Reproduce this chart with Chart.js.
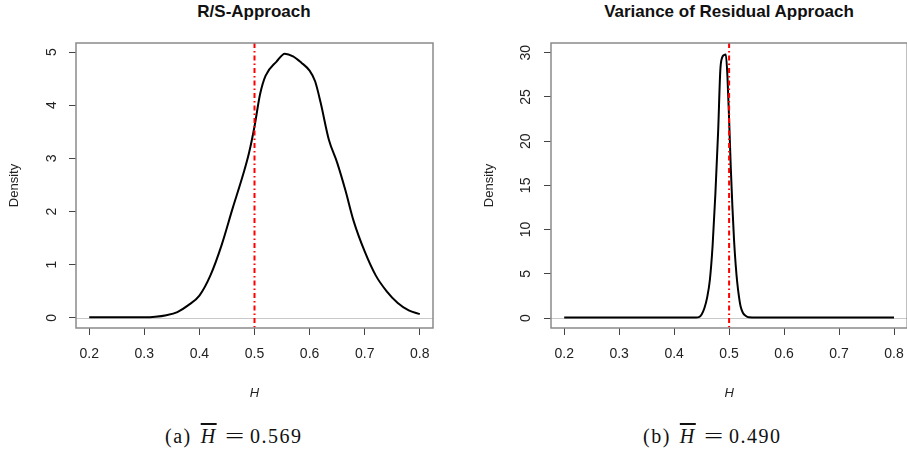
<!DOCTYPE html>
<html>
<head>
<meta charset="utf-8">
<script src="https://cdn.jsdelivr.net/npm/chart.js@4.4.0/dist/chart.umd.min.js"></script>
<style>
    body { margin: 0; width: 907px; height: 456px; overflow: hidden; background: #fff; position: relative; }
    .panel { position: absolute; top: 0; }
    .title { position: absolute; top: 2px; font: bold 17px "Liberation Sans", Arial, sans-serif; color: #111; text-align: center; width: 400px; }
    .caption { position: absolute; top: 425px; font: 20px "Liberation Serif", "DejaVu Serif", serif; color: #111; white-space: nowrap; letter-spacing: 1.5px; }
    .caption span { display: inline-block; }
    .caption .h { font-style: italic; text-decoration: overline; margin-left: 9px; width: 19px; }
    .caption .eq { transform: scaleX(1.7); margin-left: 9px; letter-spacing: 0; }
    .caption .num { margin-left: 10px; }
</style>
</head>
<body>
<div class="title" style="left: 54px;">R/S-Approach</div>
<div class="title" style="left: 529px;">Variance of Residual Approach</div>

<div class="panel" style="left: 0px;"><canvas id="myChart1" width="455" height="410"></canvas></div>
<div class="panel" style="left: 455px;"><canvas id="myChart2" width="460" height="410"></canvas></div>

<div class="caption" style="left: 165px;"><span>(a)</span><span class="h">H</span><span class="eq">=</span><span class="num">0.569</span></div>
<div class="caption" style="left: 643px;"><span>(b)</span><span class="h">H</span><span class="eq">=</span><span class="num">0.490</span></div>

<script>
// R/S approach density
const hRS = [0.20, 0.25, 0.30, 0.32, 0.34, 0.36, 0.38, 0.40, 0.42, 0.44, 0.46, 0.48, 0.49, 0.50,
    0.51, 0.52, 0.54, 0.555, 0.57, 0.585, 0.60, 0.61, 0.62, 0.635, 0.65, 0.665, 0.68, 0.70,
    0.72, 0.74, 0.76, 0.78, 0.80];
const densRS = [0.01, 0.01, 0.01, 0.02, 0.05, 0.11, 0.24, 0.42, 0.80, 1.36, 2.05, 2.72, 3.10, 3.60,
    4.20, 4.55, 4.82, 4.97, 4.92, 4.80, 4.65, 4.45, 4.05, 3.35, 2.92, 2.40, 1.82, 1.25,
    0.80, 0.50, 0.28, 0.14, 0.07];

// variance of residual approach density
const hVR = [0.20, 0.30, 0.40, 0.44, 0.445, 0.45, 0.455, 0.46, 0.465, 0.47, 0.475, 0.48, 0.484,
    0.487, 0.491, 0.494, 0.497, 0.50, 0.503, 0.506, 0.509, 0.512, 0.515, 0.518, 0.521, 0.525,
    0.53, 0.536, 0.55, 0.60, 0.70, 0.80];
const densVR = [0.05, 0.05, 0.05, 0.06, 0.1, 0.4, 1.1, 2.3, 4.3, 8.2, 14, 21, 28,
    29.4, 29.75, 29.8, 27.3, 22.5, 17.1, 12.6, 8.8, 6.0, 3.9, 2.4, 1.3, 0.6,
    0.25, 0.08, 0.05, 0.05, 0.05, 0.05];

const xTicks = [0.2, 0.3, 0.4, 0.5, 0.6, 0.7, 0.8];
const yTicksRS = [0, 1, 2, 3, 4, 5];
const yTicksVR = [0, 5, 10, 15, 20, 25, 30];
const hLine = 0.5;

// box, zero line and the dot-dash line at H = 0.5
const refLines = {
    id: 'refLines',
    beforeDatasetsDraw(chart) {
        const { ctx, chartArea: a, scales: { y } } = chart;
        ctx.save();
        ctx.strokeStyle = '#c8c8c8';
        ctx.lineWidth = 1;
        ctx.beginPath();
        const y0 = Math.round(y.getPixelForValue(0)) + 0.5;
        ctx.moveTo(a.left, y0);
        ctx.lineTo(a.right, y0);
        ctx.stroke();
        ctx.restore();
    },
    afterDatasetsDraw(chart) {
        const { ctx, chartArea: a, scales: { x } } = chart;
        ctx.save();
        ctx.strokeStyle = '#ff0000';
        ctx.lineWidth = 2;
        ctx.setLineDash([5, 3, 1.5, 3]);
        const xp = x.getPixelForValue(hLine);
        ctx.beginPath();
        ctx.moveTo(xp, a.top);
        ctx.lineTo(xp, a.bottom + 2);
        ctx.stroke();
        ctx.setLineDash([]);
        ctx.strokeStyle = '#8a8a8a';
        ctx.lineWidth = 1.5;
        ctx.strokeRect(a.left, a.top, a.right - a.left, a.bottom - a.top);
        ctx.restore();
    }
};

const makeChart = (id, xs, ys, yTicks, yMin, yMax, yAxisW, padRight, tickPad, titlePad) => {
    const points = xs.map((v, i) => ({ x: v, y: ys[i] }));
    return new Chart(document.getElementById(id), {
        type: 'line',
        data: {
            datasets: [{
                data: points,
                borderColor: '#000',
                borderWidth: 2,
                pointRadius: 0,
                cubicInterpolationMode: 'monotone',
                fill: false
            }]
        },
        options: {
            responsive: false,
            animation: false,
            layout: { padding: { top: 43, right: padRight, left: 0, bottom: 0 } },
            plugins: { legend: { display: false }, tooltip: { enabled: false } },
            scales: {
                x: {
                    type: 'linear',
                    min: 0.176,
                    max: 0.824,
                    afterBuildTicks: s => { s.ticks = xTicks.map(v => ({ value: v })); },
                    afterFit: s => { s.height = 410 - 328; },
                    grid: { drawOnChartArea: false, drawTicks: true, tickLength: 7, color: '#444' },
                    border: { display: false },
                    ticks: {
                        padding: 11,
                        color: '#222',
                        font: { family: 'Liberation Sans', size: 14 },
                        maxRotation: 0,
                        callback: v => v.toFixed(1)
                    },
                    title: {
                        display: true,
                        text: 'H',
                        color: '#222',
                        font: { family: 'Liberation Sans', size: 13, style: 'italic' },
                        padding: { top: 0, bottom: 9 }
                    }
                },
                y: {
                    type: 'linear',
                    min: yMin,
                    max: yMax,
                    afterBuildTicks: s => { s.ticks = yTicks.map(v => ({ value: v })); },
                    afterFit: s => { s.width = yAxisW; },
                    grid: { drawOnChartArea: false, drawTicks: true, tickLength: 7, color: '#444' },
                    border: { display: false },
                    ticks: {
                        padding: tickPad,
                        color: '#222',
                        crossAlign: 'center',
                        minRotation: 90,
                        maxRotation: 90,
                        font: { family: 'Liberation Sans', size: 14 },
                        callback: v => String(v)
                    },
                    title: {
                        display: true,
                        text: 'Density',
                        color: '#222',
                        font: { family: 'Liberation Sans', size: 13 },
                        padding: { top: titlePad, bottom: 0 }
                    }
                }
            }
        },
        plugins: [refLines]
    });
};

makeChart('myChart1', hRS, densRS, yTicksRS, -0.19, 5.17, 76, 22, 13, 7);
makeChart('myChart2', hVR, densVR, yTicksVR, -1.13, 31.1, 96, 7, 10, 27);
</script>
</body>
</html>
